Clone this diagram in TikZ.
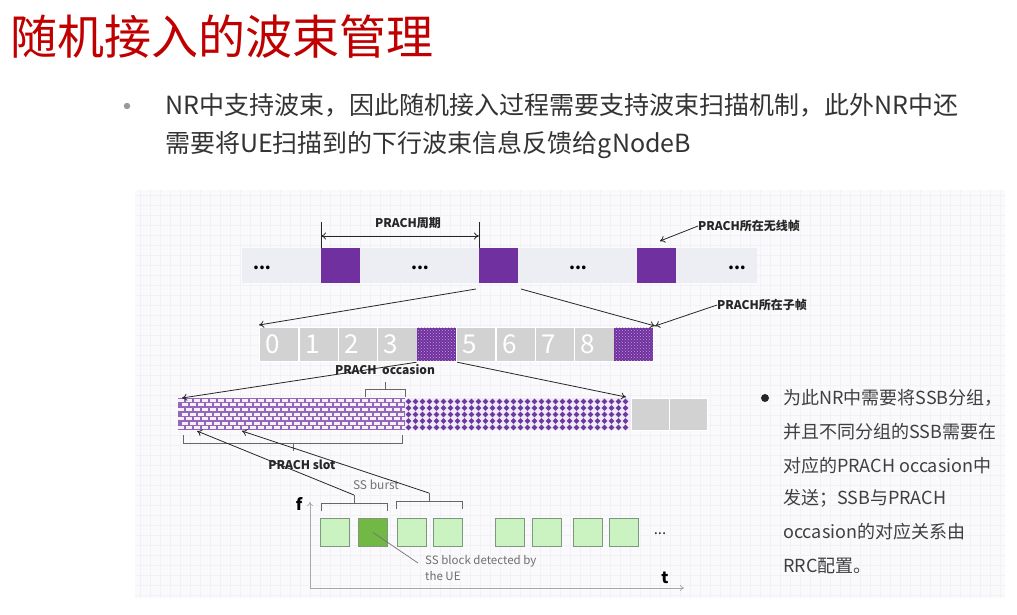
\documentclass[tikz,border=0pt]{standalone}
\usepackage{fontspec}
\setmainfont{Noto Sans CJK SC}
\usetikzlibrary{arrows.meta,patterns}
\definecolor{titlered}{HTML}{C00000}
\definecolor{prpl}{HTML}{7030A0}
\definecolor{prpldot}{HTML}{6A3A9E}
\definecolor{brickm}{HTML}{9467BA}
\definecolor{brickw}{HTML}{F6F1F9}
\definecolor{dotbg}{HTML}{F1EAF6}
\definecolor{panelbg}{HTML}{FAFAFC}
\definecolor{gridc}{HTML}{F2F2F6}
\definecolor{bandc}{HTML}{EDEDF4}
\definecolor{cellgray}{HTML}{D2D2D2}
\definecolor{lgreen}{HTML}{CBF3C2}
\definecolor{dgreen}{HTML}{72B844}
\definecolor{gstroke}{HTML}{7F977F}
\definecolor{txtdark}{HTML}{333333}
\definecolor{txtright}{HTML}{3F3F3F}
\definecolor{axisc}{HTML}{A8A8A8}
\definecolor{graytxt}{HTML}{6E6E6E}
\tikzset{
  psq/.style={anchor=north west, fill=prpl, inner sep=0pt, minimum width=39pt, minimum height=35pt},
  cellbox/.style={anchor=north west, fill=cellgray, draw=white, line width=1.2pt, inner sep=0pt, minimum width=39.4pt, minimum height=34pt},
  dotcell/.style={anchor=north west, fill=prpl, inner sep=0pt, minimum width=38.4pt, minimum height=33pt, postaction={pattern=crosshatch dots, pattern color=white!55!prpl}},
  gbox/.style={anchor=north west, fill=lgreen, draw=gstroke, line width=0.9pt, inner sep=0pt, minimum width=29pt, minimum height=28pt},
  lbl/.style={font=\bfseries\fontsize{12}{13}\selectfont, text=black!85, inner sep=0pt},
  dotsl/.style={font=\bfseries\fontsize{17}{17}\selectfont, inner sep=0pt},
  arr/.style={-{To[length=5pt,width=7pt]}, line width=0.8pt, black!85},
  brk/.style={line width=0.7pt, black!60},
  digit/.style={font=\fontsize{26}{26}\selectfont, text=white, inner sep=0pt},
  rtext/.style={anchor=west, inner sep=0pt, font=\fontsize{18}{20}\selectfont, text=txtright}
}
\begin{document}
\begin{tikzpicture}[x=1pt,y=-1pt]
\useasboundingbox (0,0) rectangle (1017,614);
\fill[white] (0,0) rectangle (1017,614);

% title and top bullet
\node[anchor=west, inner sep=0pt, text=titlered, font=\fontsize{47}{47}\selectfont] (title) at (10,37) {随机接入的波束管理};
\fill[black!40] (127,106) circle (3.2);
\node[anchor=west, inner sep=0pt, text=txtdark, font=\fontsize{25}{25}\selectfont] (b1) at (165,105) {NR中支持波束，因此随机接入过程需要支持波束扫描机制，此外NR中还};
\node[anchor=west, inner sep=0pt, text=txtdark, font=\fontsize{25}{25}\selectfont] (b2) at (165,145) {需要将UE扫描到的下行波束信息反馈给gNodeB};

% panel
\fill[panelbg] (135,190) rectangle (1005,598);
\foreach \gx in {140,150,...,1000} \draw[gridc, line width=0.4pt] (\gx,190) -- (\gx,598);
\foreach \gy in {195,205,...,595} \draw[gridc, line width=0.4pt] (135,\gy) -- (1005,\gy);

% top row
\fill[bandc] (242,248) rectangle (757,283);
\node[psq] (f1) at (321,248) {};
\node[psq] (f2) at (479,248) {};
\node[psq] (f3) at (637,248) {};
\node[dotsl] (d1) at (262,268) {...};
\node[dotsl] (d2) at (420,268) {...};
\node[dotsl] (d3) at (578,268) {...};
\node[dotsl] (d4) at (737,268) {...};

\coordinate (pa) at (321,222);
\coordinate (pb) at (479,222);
\coordinate (pa2) at (321,236);
\coordinate (pb2) at (479,236);
\draw[line width=0.8pt, black!85] (f1.north west) -- (pa);
\draw[line width=0.8pt, black!85] (f2.north west) -- (pb);
\draw[{To[length=5pt,width=7pt]}-{To[length=5pt,width=7pt]}, line width=0.8pt, black!85] (pa2) -- (pb2);
\node[lbl] (lper) at (408,223) {PRACH周期};
\node[lbl, anchor=west] (lwx) at (698,226) {PRACH所在无线帧};
\coordinate (wxe) at (660,241);
\draw[arr] (lwx.west) -- (wxe);

% second row
\foreach \i in {0,...,9} {
  \node[cellbox] (c\i) at ({259+39.4*\i},327) {};
}
\node[dotcell] (c4p) at ({259.5+39.4*4},327.5) {};
\node[dotcell] (c9p) at ({259.5+39.4*9},327.5) {};
\foreach \i in {0,1,2,3,5,6,7,8} {
  \node[digit] (n\i) at ({273+39.4*\i},344) {\i};
}
\coordinate (s1) at (476,289);
\coordinate (s2) at (521,289);
\coordinate (e1) at (259,325);
\coordinate (e2) at (655,326);
\draw[arr] (s1) -- (e1);
\draw[arr] (s2) -- (e2);
\node[lbl, anchor=west] (lzz) at (717,305) {PRACH所在子帧};
\draw[arr] (lzz.west) -- (e2);

% third row
\begin{scope}
\clip (178,398) rectangle (405,430);
\fill[brickm] (178,398) rectangle (405,430);
\foreach \r [evaluate=\r as \off using {mod(\r,2)*4}] in {0,...,6} {
  \foreach \c in {0,...,29} {
    \fill[brickw] ({177+8*\c+\off+0.9},{398+\r*4.57+0.9}) rectangle ++(6.3,2.9);
  }
}
\end{scope}
\fill[dotbg] (405,398) rectangle (631,430);
\foreach \r in {0,...,4} {
  \foreach \c in {0,...,31} {
    \fill[prpldot, shift={({408.5+7*\c},{401.5+6.5*\r})}] (-2.8,0) -- (0,-2.8) -- (2.8,0) -- (0,2.8) -- cycle;
  }
}
\node[anchor=north west, fill=cellgray, draw=white, line width=1.2pt, inner sep=0pt, minimum width=38pt, minimum height=32pt] (g9) at (631,398) {};
\node[anchor=north west, fill=cellgray, draw=white, line width=1.2pt, inner sep=0pt, minimum width=38pt, minimum height=32pt] (g10) at (669,398) {};
\node[inner sep=0pt, minimum width=227pt, minimum height=32pt, anchor=north west] (brick) at (178,398) {};
\node[inner sep=0pt, minimum width=226pt, minimum height=32pt, anchor=north west] (dotr) at (405,398) {};

\coordinate (e3) at (182,398);
\coordinate (e4) at (626,397);
\draw[arr] (c4.south west) -- (e3);
\draw[arr] (c4.south east) -- (e4);
\node[lbl] (locc) at (385,370) {PRACH\ \ occasion};
% occasion bracket
\coordinate (ob1) at (365,397);
\coordinate (ob2) at (365,389);
\coordinate (ob3) at (405,389);
\coordinate (ob4) at (405,397);
\coordinate (obc) at (385,389);
\coordinate (obt) at (385,382);
\draw[brk] (ob1) -- (ob2) -- (ob3) -- (ob4);
\draw[brk] (obc) -- (obt);
% slot bracket
\coordinate (sb1) at (183,435);
\coordinate (sb2) at (183,443);
\coordinate (sb3) at (402,443);
\coordinate (sb4) at (402,435);
\coordinate (sbc) at (293,443);
\coordinate (sbt) at (293,451);
\draw[brk] (sb1) -- (sb2) -- (sb3) -- (sb4);
\draw[brk] (sbc) -- (sbt);
\node[lbl] (lslot) at (302,465) {PRACH slot};

% SS bursts
\node[gbox] (gb1) at (320,518) {};
\node[gbox, fill=dgreen] (gb2) at (358,518) {};
\node[gbox] (gb3) at (397,518) {};
\node[gbox] (gb4) at (433,518) {};
\node[gbox] (gb5) at (495,518) {};
\node[gbox] (gb6) at (532,518) {};
\node[gbox] (gb7) at (573,518) {};
\node[gbox] (gb8) at (609,518) {};
\node[dotsl, font=\fontsize{15}{15}\selectfont, text=black!80] (d5) at (660,534) {...};

\coordinate (ba1) at (321,511);
\coordinate (ba2) at (321,503);
\coordinate (ba3) at (387,503);
\coordinate (ba4) at (387,511);
\coordinate (bac) at (354,503);
\coordinate (bat) at (354,495);
\draw[brk] (ba1) -- (ba2) -- (ba3) -- (ba4);
\draw[brk] (bac) -- (bat);
\coordinate (bb1) at (396,509);
\coordinate (bb2) at (396,501);
\coordinate (bb3) at (462,501);
\coordinate (bb4) at (462,509);
\coordinate (bbc) at (429,501);
\coordinate (bbt) at (429,493);
\draw[brk] (bb1) -- (bb2) -- (bb3) -- (bb4);
\draw[brk] (bbc) -- (bbt);
\node[inner sep=0pt, text=black!55, font=\fontsize{12}{13}\selectfont] (lssb) at (376,485) {SS burst};
\coordinate (h1) at (197,431);
\coordinate (h2) at (242,431);
\draw[arr] (bat) -- (h1);
\draw[arr] (bbt) -- (h2);

% axes
\coordinate (o) at (310,588);
\coordinate (fy) at (310,502);
\coordinate (tx) at (684,588);
\draw[-{To[length=4pt,width=6pt]}, axisc, line width=0.7pt] (o) -- (fy);
\draw[-{To[length=4pt,width=6pt]}, axisc, line width=0.7pt] (o) -- (tx);
\node[inner sep=0pt, font=\bfseries\fontsize{16}{16}\selectfont] (lf) at (299,504) {f};
\node[inner sep=0pt, font=\bfseries\fontsize{16}{16}\selectfont] (lt) at (665,578) {t};

% detected
\coordinate (dte) at (418,563);
\draw[line width=0.7pt, black!55] (gb2.center) -- (dte);
\node[anchor=west, inner sep=0pt, text=graytxt, font=\fontsize{11.5}{12}\selectfont] (ld1) at (425,561) {SS block detected by};
\node[anchor=west, inner sep=0pt, text=graytxt, font=\fontsize{11.5}{12}\selectfont] (ld2) at (425,576) {the UE};

% right text
\fill[black!85] (765,398) circle (4);
\node[rtext] (t1) at (783,398) {为此NR中需要将SSB分组，};
\node[rtext] (t2) at (783,432) {并且不同分组的SSB需要在};
\node[rtext] (t3) at (783,466) {对应的PRACH occasion中};
\node[rtext] (t4) at (783,498) {发送；SSB与PRACH};
\node[rtext] (t5) at (783,532) {occasion的对应关系由};
\node[rtext] (t6) at (783,566) {RRC配置。};
\end{tikzpicture}
\end{document}
